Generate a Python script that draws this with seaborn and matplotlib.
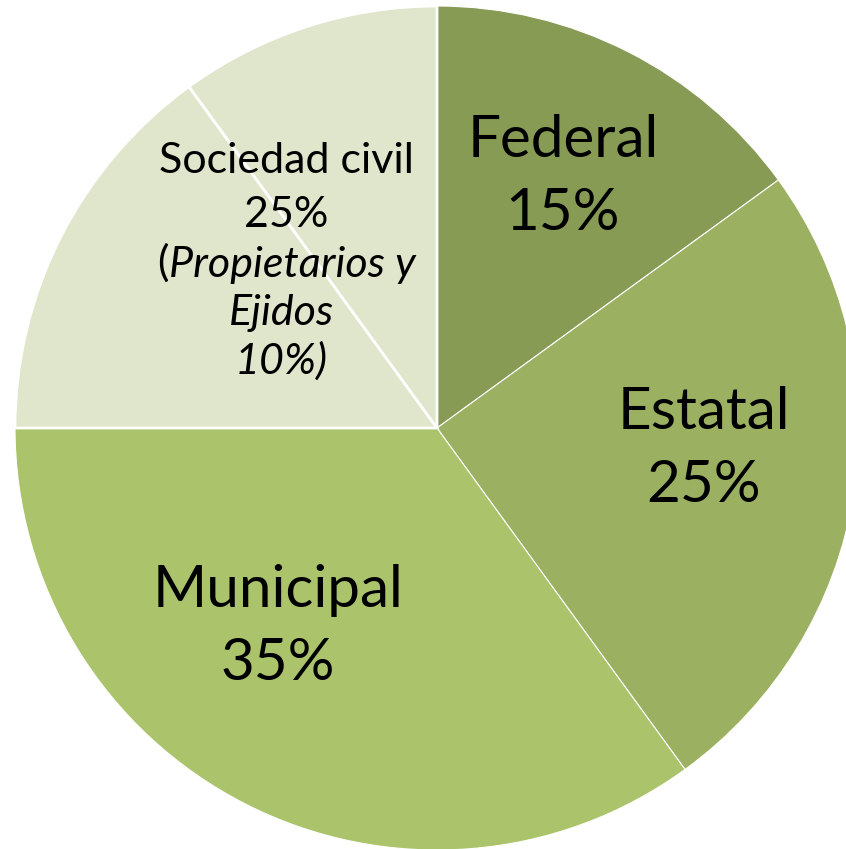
import matplotlib
matplotlib.use("Agg")
import matplotlib.pyplot as plt
import seaborn as sns

# shares of the funding, clockwise from the top
sectors = ["Federal", "Estatal", "Municipal", "Sociedad civil", "Propietarios y Ejidos"]
shares = [15, 25, 35, 15, 10]
colors = ["#879B55", "#9BB060", "#ABC46C", "#DFE6CB", "#DFE6CB"]

sns.set_theme(style="white")
plt.rcParams["font.family"] = ["Lato", "DejaVu Sans"]
plt.rcParams["text.color"] = "black"

fig = plt.figure(figsize=(8.46, 8.49), dpi=100)
ax = fig.add_axes([0, 0, 1, 1])

r = 422.0
cx, cy = 437.0, 428.0
wedges, _ = ax.pie(shares, colors=colors, startangle=90, counterclock=False,
                   radius=1.0, wedgeprops=dict(edgecolor="white", linewidth=0.8))
for w in wedges[3:]:
    w.set_linewidth(2.0)

ax.set_xlim(-cx / r, (846 - cx) / r)
ax.set_ylim(-(849 - cy) / r, cy / r)
ax.set_aspect("equal")
ax.axis("off")


def pos(px, py):
    return (px - cx) / r, (cy - py) / r


big = 42
small = 31
ax.text(*pos(563, 177), "Federal\n15%", ha="center", va="center", fontsize=big, linespacing=1.45)
ax.text(*pos(704, 449), "Estatal\n25%", ha="center", va="center", fontsize=big, linespacing=1.45)
ax.text(*pos(278, 627), "Municipal\n35%", ha="center", va="center", fontsize=big, linespacing=1.45)

ax.text(*pos(286, 161), "Sociedad civil", ha="center", va="center", fontsize=small)
ax.text(*pos(286, 215), "25%", ha="center", va="center", fontsize=small)
prop = ax.text(*pos(292, 265), "Propietarios y", ha="center", va="center", fontsize=small, style="italic")
ax.text(*pos(282, 313), "Ejidos", ha="center", va="center", fontsize=small, style="italic")
ax.text(*pos(281, 361), "10%)", ha="center", va="center", fontsize=small, style="italic")

fig.canvas.draw()
bb = prop.get_window_extent()
x0 = ax.transData.inverted().transform((bb.x0, bb.y0))[0]
ax.text(x0, pos(0, 263)[1], "(", ha="right", va="center", fontsize=small)

fig.savefig("out.png", dpi=100)
